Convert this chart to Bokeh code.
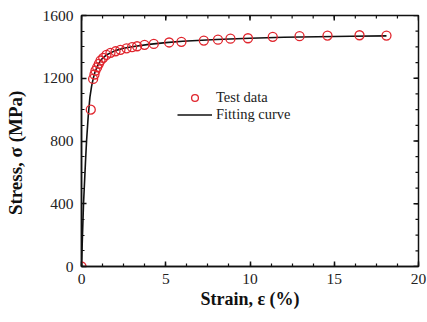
import math
from bokeh.plotting import figure
from bokeh.models import LinearAxis, Range1d, FixedTicker, Legend, LegendItem
from bokeh.embed import file_html
from bokeh.resources import INLINE

# Test data (strain %, stress MPa)
test_strain = [0.0, 0.55, 0.69, 0.77, 0.83, 0.93, 1.03, 1.13, 1.29, 1.48, 1.72, 2.02,
               2.31, 2.67, 3.0, 3.3, 3.74, 4.29, 5.2, 5.93, 7.26, 8.1, 8.84, 9.88,
               11.35, 12.94, 14.6, 16.5, 18.1]
test_stress = [0, 1000, 1196, 1224, 1249, 1270, 1292, 1313, 1330, 1349, 1362, 1372,
               1381, 1391, 1398, 1404, 1413, 1419, 1428, 1432, 1440, 1446, 1452, 1455,
               1464, 1468, 1472, 1474, 1472]

# Fitting curve
fit_strain = [0.0, 0.05, 0.12, 0.24, 0.3, 0.4, 0.5, 0.6, 0.7, 0.8, 1.0, 1.2, 1.5,
              2.0, 2.5, 3.0, 4.0, 5.0, 6.0, 8.0, 10.0, 12.0, 14.0, 16.0, 18.1]
fit_stress = [0, 170, 400, 675, 800, 960, 1080, 1150, 1200, 1240, 1290, 1322, 1350,
              1376, 1391, 1401, 1416, 1427, 1436, 1447, 1455, 1461, 1465, 1468, 1470]

x_ticks = [0, 5, 10, 15, 20]
y_ticks = [0, 400, 800, 1200, 1600]
x_minor = [i * 1.25 for i in range(17)]
y_minor = [i * 100 for i in range(17)]
X_MAX = 20
Y_MAX = 1600

x_title = "Strain, \u03b5 (%)"
# trailing no-break spaces nudge the centred vertical title toward the bottom, as in the reference
y_title = "Stress, \u03c3 (MPa)" + "\u00a0" * 5

FONT = "Liberation Serif"
INK = "#111111"

p = figure(width=427, height=322, output_backend="svg", toolbar_location=None,
           x_range=Range1d(0, X_MAX), y_range=Range1d(0, Y_MAX),
           min_border_left=81, min_border_right=9, min_border_top=15, min_border_bottom=56,
           x_axis_location=None, y_axis_location=None)
p.grid.visible = False
p.outline_line_color = INK
p.outline_line_width = 1.5
p.background_fill_color = "white"
p.border_fill_color = "white"

def style_axis(ax, ticks, minor):
    ax.ticker = FixedTicker(ticks=ticks, minor_ticks=minor)
    ax.major_tick_in = 5
    ax.major_tick_out = 0
    ax.minor_tick_in = 3
    ax.minor_tick_out = 0
    ax.axis_line_color = INK
    ax.axis_line_width = 1.5
    ax.major_tick_line_color = INK
    ax.major_tick_line_width = 1.5
    ax.minor_tick_line_color = INK
    ax.minor_tick_line_width = 1.2
    ax.major_label_text_font = FONT
    ax.major_label_text_font_size = "15.5px"
    ax.major_label_text_color = "#222222"
    ax.axis_label_text_font = FONT
    ax.axis_label_text_font_style = "bold"
    ax.axis_label_text_color = INK

xb = LinearAxis(axis_label=x_title)
style_axis(xb, x_ticks, x_minor)
xb.axis_label_text_font_size = "18px"
xb.major_label_standoff = 7
xb.axis_label_standoff = 2
p.add_layout(xb, "below")

yl = LinearAxis(axis_label=y_title)
style_axis(yl, y_ticks, y_minor)
yl.axis_label_text_font_size = "19px"
yl.major_label_standoff = 8
yl.axis_label_standoff = 14
p.add_layout(yl, "left")

# mirrored inward ticks on top and right edges (half of each dash is clipped by the frame)
p.scatter(x_ticks, [Y_MAX] * len(x_ticks), marker="dash", angle=math.pi / 2, size=10,
          line_color=INK, line_width=1.5)
p.scatter(x_minor, [Y_MAX] * len(x_minor), marker="dash", angle=math.pi / 2, size=6,
          line_color=INK, line_width=1.2)
p.scatter([X_MAX] * len(y_ticks), y_ticks, marker="dash", size=10,
          line_color=INK, line_width=1.5)
p.scatter([X_MAX] * len(y_minor), y_minor, marker="dash", size=6,
          line_color=INK, line_width=1.2)

line = p.line(fit_strain, fit_stress, line_color=INK, line_width=1.6)
pts = p.scatter(test_strain, test_stress, marker="circle", size=9,
                fill_color=None, line_color="#e0262e", line_width=1.3)

legend = Legend(items=[LegendItem(label="Test data", renderers=[pts]),
                       LegendItem(label="Fitting curve", renderers=[line])],
                location=(96, 143), border_line_color=None,
                background_fill_alpha=0, padding=0, margin=0, spacing=0,
                glyph_width=35, glyph_height=17, label_standoff=4,
                label_text_font=FONT, label_text_font_size="14.5px",
                label_text_color="#222222", label_height=17)
p.add_layout(legend, "center")

open("out.html", "w").write(file_html(p, INLINE))
